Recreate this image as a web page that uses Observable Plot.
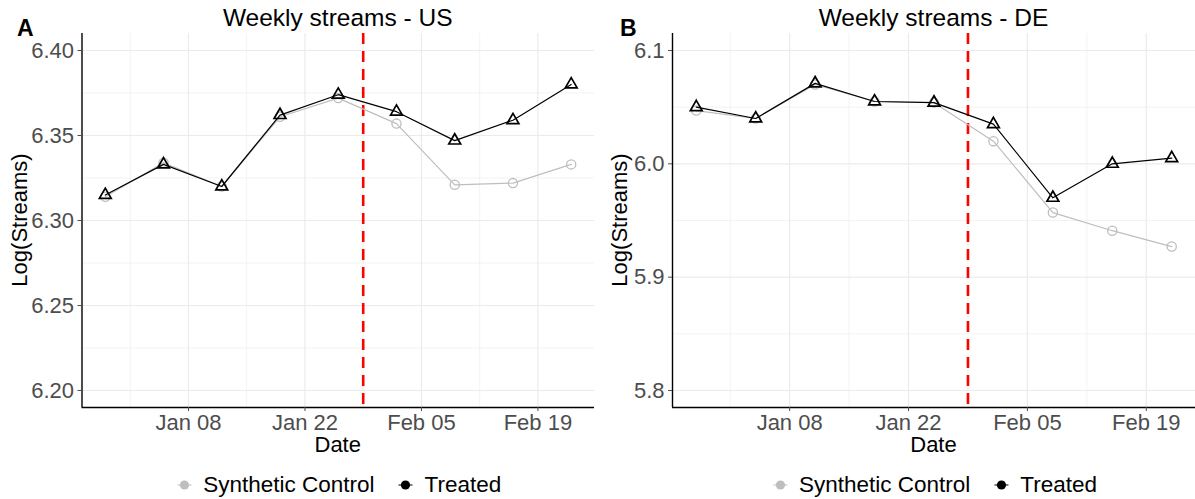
<!DOCTYPE html>
<html>
<head>
<meta charset="utf-8">
<script src="https://cdn.jsdelivr.net/npm/d3@7"></script>
<script src="https://cdn.jsdelivr.net/npm/@observablehq/plot@0.6"></script>
<style>
  html, body { margin: 0; padding: 0; background: #fff; overflow: hidden; }
  #root { position: relative; width: 1195px; height: 499px; font-family: "Liberation Sans", Arial, sans-serif; }
  .panel { position: absolute; top: 0; }
  .legend { position: absolute; top: 472px; display: flex; align-items: center; transform: translateX(-50%); white-space: nowrap; font-size: 22.5px; color: #000; }
  .legend .item { display: flex; align-items: center; }
  .legend .item + .item { margin-left: 21px; }
  .legend svg { display: block; }
  .legend span { margin-left: 9px; }
</style>
</head>
<body>
<div id="root"></div>
<script>
// ---------- data ----------
const usDates = ["2017-12-29","2018-01-05","2018-01-12","2018-01-19","2018-01-26","2018-02-02","2018-02-09","2018-02-16","2018-02-23"];
const usTreated   = [6.315, 6.333, 6.320, 6.362, 6.374, 6.364, 6.347, 6.359, 6.380];
const usSynthetic = [6.314, 6.334, 6.320, 6.361, 6.372, 6.357, 6.321, 6.322, 6.333];

const deDates = ["2017-12-28","2018-01-04","2018-01-11","2018-01-18","2018-01-25","2018-02-01","2018-02-08","2018-02-15","2018-02-22"];
const deTreated   = [6.050, 6.040, 6.071, 6.055, 6.054, 6.035, 5.970, 6.000, 6.005];
const deSynthetic = [6.047, 6.040, 6.070, 6.055, 6.054, 6.020, 5.957, 5.941, 5.927];

const xTickDates  = ["2018-01-08","2018-01-22","2018-02-05","2018-02-19"];
const xMinorDates = ["2018-01-01","2018-01-15","2018-01-29","2018-02-12"];
const usYTicks = [6.20, 6.25, 6.30, 6.35, 6.40];
const usYMinor = [6.225, 6.275, 6.325, 6.375];
const usYLimits = [6.2, 6.4];
const deYTicks = [5.8, 5.9, 6.0, 6.1];
const deYMinor = [5.85, 5.95, 6.05];
const deYLimits = [5.8, 6.1];
const interventionDate = "2018-01-29";

const seriesNames  = ["Synthetic Control", "Treated"];
const seriesColors = ["#bebebe", "#000000"];
const panelTitles = ["Weekly streams - US", "Weekly streams - DE"];
const panelTags = ["A", "B"];
const xTitle = "Date";
const yTitle = "Log(Streams)";

// ---------- helpers ----------
const parse = d3.utcParse("%Y-%m-%d");
const FONT = "'Liberation Sans', Arial, sans-serif";

function rows(dates, values, series) {
  return dates.map((d, i) => ({date: parse(d), value: values[i], series}));
}

function makePanel(cfg) {
  const synth = rows(cfg.dates, cfg.synth, seriesNames[0]);
  const treat = rows(cfg.dates, cfg.treated, seriesNames[1]);
  const d0 = parse(cfg.dates[0]), d1 = parse(cfg.dates[cfg.dates.length - 1]);
  const span = (+d1 - +d0) * 0.05;
  const xDomain = [new Date(+d0 - span), new Date(+d1 + span)];
  const yr = cfg.yLimits[1] - cfg.yLimits[0];
  const yDomain = [cfg.yLimits[0] - yr * 0.05, cfg.yLimits[1] + yr * 0.05];
  const H = 460;

  const svg = Plot.plot({
    width: cfg.width,
    height: H,
    marginLeft: cfg.marginLeft,
    marginRight: cfg.marginRight,
    marginTop: 33,
    marginBottom: H - 407,
    style: {fontFamily: FONT, fontSize: "22px", background: "transparent", overflow: "visible"},
    x: {type: "utc", domain: xDomain},
    y: {domain: yDomain},
    marks: [
      Plot.gridY(cfg.yMinor, {stroke: "#ebebeb", strokeOpacity: 1, strokeWidth: 0.6}),
      Plot.gridX(xMinorDates.map(parse), {stroke: "#ebebeb", strokeOpacity: 1, strokeWidth: 0.6}),
      Plot.gridY(cfg.yTicks, {stroke: "#ebebeb", strokeOpacity: 1, strokeWidth: 1.2}),
      Plot.gridX(xTickDates.map(parse), {stroke: "#ebebeb", strokeOpacity: 1, strokeWidth: 1.2}),
      Plot.ruleX([parse(interventionDate)], {stroke: "#ff0000", strokeWidth: 2.6, strokeDasharray: "11,7"}),
      Plot.line(synth, {x: "date", y: "value", stroke: seriesColors[0], strokeWidth: 1.2}),
      Plot.dot(synth, {x: "date", y: "value", r: 4.6, stroke: seriesColors[0], fill: "none", strokeWidth: 1.3}),
      Plot.line(treat, {x: "date", y: "value", stroke: seriesColors[1], strokeWidth: 1.2}),
      Plot.dot(treat, {x: "date", y: "value", symbol: "triangle", r: 4.4, stroke: seriesColors[1], fill: "none", strokeWidth: 1.7}),
      Plot.ruleX([xDomain[0]], {stroke: "#000", strokeWidth: 1.4}),
      Plot.ruleY([yDomain[0]], {stroke: "#000", strokeWidth: 1.4}),
      Plot.axisY(cfg.yTicks, {anchor: "left", tickSize: 4, tickPadding: 4, fontSize: 22, color: "#4d4d4d", tickFormat: d3.format(cfg.yFmt), label: null}),
      Plot.axisX(xTickDates.map(parse), {anchor: "bottom", tickSize: 4, tickPadding: 3, fontSize: 22, color: "#4d4d4d", tickFormat: d3.utcFormat("%b %d"), label: null})
    ]
  });

  const plotLeft = cfg.marginLeft, plotRight = cfg.width - cfg.marginRight;
  const cx = (plotLeft + plotRight) / 2;
  const s = d3.select(svg);
  s.append("text").attr("x", cx).attr("y", 26).attr("text-anchor", "middle")
    .attr("font-size", 24.5).attr("fill", "#000").text(cfg.title);
  s.append("text").attr("x", cfg.tagX).attr("y", 36).attr("text-anchor", "start")
    .attr("font-size", 23).attr("font-weight", "bold").attr("fill", "#000").text(cfg.tag);
  s.append("text").attr("transform", `translate(${cfg.yTitleX},220) rotate(-90)`).attr("text-anchor", "middle")
    .attr("font-size", 22).attr("fill", "#000").text(yTitle);
  s.append("text").attr("x", cx).attr("y", 452).attr("text-anchor", "middle")
    .attr("font-size", 22).attr("fill", "#000").text(xTitle);

  const wrap = document.createElement("div");
  wrap.className = "panel";
  wrap.style.left = cfg.left + "px";
  wrap.style.width = cfg.width + "px";
  wrap.appendChild(svg);

  // legend below the plot
  const lg = document.createElement("div");
  lg.className = "legend";
  lg.style.left = (cfg.left + cx) + "px";
  seriesNames.forEach((name, i) => {
    const item = document.createElement("div");
    item.className = "item";
    item.innerHTML = `<svg width="20" height="20"><line x1="3" x2="17" y1="10" y2="10" stroke="${seriesColors[i]}" stroke-width="1.2"/><circle cx="10" cy="10" r="4.6" fill="${seriesColors[i]}"/></svg>`;
    const sp = document.createElement("span");
    sp.textContent = name;
    item.appendChild(sp);
    lg.appendChild(item);
  });
  return [wrap, lg];
}

const root = document.getElementById("root");
const panels = [
  {left: 0, width: 597, marginLeft: 81.5, marginRight: 3, dates: usDates, treated: usTreated, synth: usSynthetic,
   yLimits: usYLimits, yTicks: usYTicks, yMinor: usYMinor, yFmt: ".2f", title: panelTitles[0], tag: panelTags[0], tagX: 17, yTitleX: 27},
  {left: 597, width: 598, marginLeft: 75, marginRight: 0, dates: deDates, treated: deTreated, synth: deSynthetic,
   yLimits: deYLimits, yTicks: deYTicks, yMinor: deYMinor, yFmt: ".1f", title: panelTitles[1], tag: panelTags[1], tagX: 23, yTitleX: 30}
];
panels.forEach(cfg => makePanel(cfg).forEach(el => root.appendChild(el)));
</script>
</body>
</html>
